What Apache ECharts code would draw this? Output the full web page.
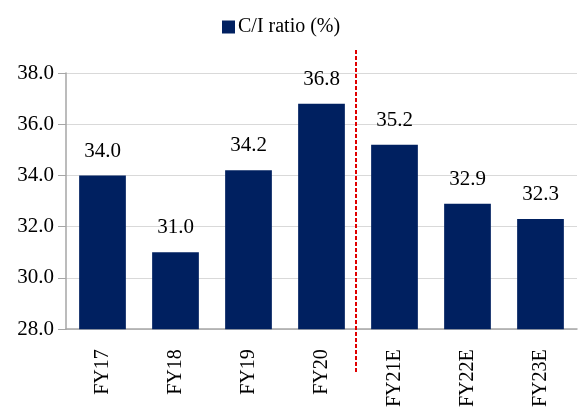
<!DOCTYPE html>
<html>
<head>
<meta charset="utf-8">
<script src="https://cdn.jsdelivr.net/npm/echarts@6/dist/echarts.min.js"></script>
<style>
  html, body { margin: 0; padding: 0; background: #fff; }
  #chart { width: 578px; height: 410px; }
</style>
</head>
<body>
<div id="chart"></div>
<script>
// Cost-to-income ratio, actuals and estimates
const categories = ['FY17', 'FY18', 'FY19', 'FY20', 'FY21E', 'FY22E', 'FY23E'];
const ciRatio = [34.0, 31.0, 34.2, 36.8, 35.2, 32.9, 32.3];
const seriesName = 'C/I ratio (%)';
// Last actual year; the divider sits between it and the first estimate
const lastActualIndex = 3;

const FONT = '"Liberation Serif", "Times New Roman", serif';
const BAR = '#002060';

const chart = echarts.init(document.getElementById('chart'), null, { renderer: 'canvas' });

chart.setOption({
  animation: false,
  backgroundColor: '#ffffff',
  legend: {
    left: 217,
    top: 12,
    itemWidth: 13,
    itemHeight: 13,
    itemGap: 3,
    icon: 'rect',
    textStyle: { fontFamily: FONT, fontSize: 20, color: '#000', padding: [0, 0, 0, -2] },
    data: [seriesName]
  },
  grid: { left: 66, right: 1, top: 73, bottom: 79, containLabel: false },
  xAxis: {
    type: 'category',
    data: categories,
    axisLine: { lineStyle: { color: '#a6a6a6', width: 1.5 } },
    axisTick: { show: false },
    axisLabel: {
      rotate: 90,
      margin: 20,
      fontFamily: FONT,
      fontSize: 20,
      color: '#000'
    }
  },
  yAxis: {
    type: 'value',
    min: 28,
    max: 38,
    interval: 2,
    axisLine: { show: true, lineStyle: { color: '#a6a6a6', width: 1.5 } },
    axisTick: { show: true, length: 8, lineStyle: { color: '#a6a6a6' } },
    splitLine: { lineStyle: { color: '#d9d9d9', width: 1 } },
    axisLabel: {
      margin: 12,
      fontFamily: FONT,
      fontSize: 21,
      color: '#000',
      formatter: v => v.toFixed(1)
    }
  },
  series: [{
    name: seriesName,
    type: 'bar',
    data: ciRatio,
    barCategoryGap: '36%',
    itemStyle: { color: BAR },
    label: {
      show: true,
      position: 'top',
      distance: 14,
      fontFamily: FONT,
      fontSize: 21,
      color: '#000',
      formatter: p => p.value.toFixed(1)
    }
  }]
});

// Dashed divider between actuals and estimates, placed from the axis scale
function drawDivider() {
  const xa = chart.convertToPixel({ xAxisIndex: 0 }, categories[lastActualIndex]);
  const xb = chart.convertToPixel({ xAxisIndex: 0 }, categories[lastActualIndex + 1]);
  const x = Math.round((xa + xb) / 2) - 2;
  chart.setOption({
    graphic: [{
      type: 'line',
      id: 'divider',
      z: 100,
      shape: { x1: x, y1: 50, x2: x, y2: 372 },
      style: { stroke: '#e00000', lineWidth: 2, lineDash: [4, 2] }
    }]
  });
}
drawDivider();
</script>
</body>
</html>
